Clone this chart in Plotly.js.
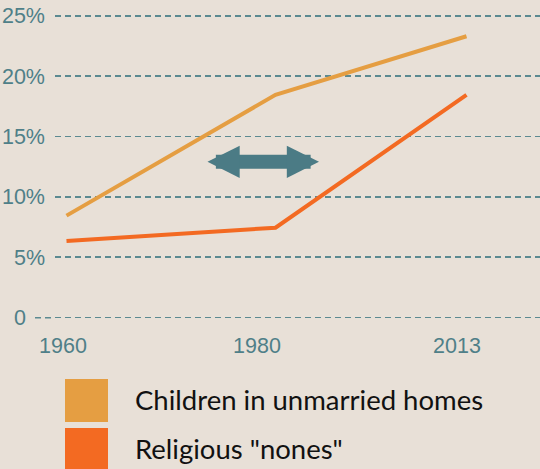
<!DOCTYPE html>
<html>
<head>
<meta charset="utf-8">
<script src="https://cdn.plot.ly/plotly-3.0.1.min.js"></script>
<style>html,body{margin:0;padding:0;background:#E8E0D7;}#chart{width:540px;height:469px;}</style>
</head>
<body>
<div id="chart"></div>
<script>
// Data
var years = ["1960", "1980", "2013"];
var pointPos = [0, 1.045, 2.0];          // horizontal slot of each data point
var labelPos = [-0.0175, 0.9525, 1.9525]; // where the year labels sit
var seriesNames = ["Children in unmarried homes", "Religious \"nones\""];
var unmarried = [8.45, 18.45, 23.3];
var nones = [6.35, 7.45, 18.45];
var seriesColors = ["#E59E42", "#F36A22"];
var yTickVals = [0, 5, 10, 15, 20, 25];
var yTickText = ['0<span style="color:rgba(0,0,0,0)">%</span>', "5%", "10%", "15%", "20%", "25%"];
var arrowLevel = 12.9;
var arrowFrom = 0.6975, arrowTo = 1.2625;

var teal = "#4F7F88";
var grid = "#5B8A91";
var bg = "#E8E0D7";

var traces = [
  {x: pointPos, y: unmarried, name: seriesNames[0], type: "scatter", mode: "lines",
   line: {color: seriesColors[0], width: 4}, hoverinfo: "skip"},
  {x: pointPos, y: nones, name: seriesNames[1], type: "scatter", mode: "lines",
   line: {color: seriesColors[1], width: 4}, hoverinfo: "skip"}
];

// paper helpers: plot area x 55..540, y 0..330
var L = 55;
function px2paperX(p){ return (p - L) / (540 - L); }
function px2paperY(p){ return (330 - p) / 330; }

var shapes = [
  {type: "line", xref: "paper", yref: "y", x0: px2paperX(35), x1: px2paperX(L), y0: 0, y1: 0,
   line: {color: grid, width: 1.6, dash: "6px,4px"}, layer: "below"}
];
var annotations = [
  {x: arrowTo, y: arrowLevel, ax: arrowFrom, ay: arrowLevel, axref: "x", ayref: "y", xref: "x", yref: "y",
   text: "", showarrow: true, arrowside: "end+start", arrowhead: 2, startarrowhead: 2,
   arrowwidth: 14, arrowsize: 0.46, startarrowsize: 0.46, arrowcolor: "#4B7B85", standoff: 0, startstandoff: 0}
];
var legendTop = [379, 428];
for (var i = 0; i < seriesNames.length; i++) {
  shapes.push({type: "rect", xref: "paper", yref: "paper",
    x0: px2paperX(65), x1: px2paperX(108), y0: px2paperY(legendTop[i]), y1: px2paperY(legendTop[i] + 43),
    fillcolor: seriesColors[i], line: {width: 0}});
  annotations.push({xref: "paper", yref: "paper", x: px2paperX(133), y: px2paperY(legendTop[i] + 20.5),
    xanchor: "left", yanchor: "middle", text: seriesNames[i], showarrow: false,
    font: {family: "Lato", size: 27.5, color: "#111111"}});
}

var layout = {
  width: 540, height: 469,
  margin: {l: L, r: 0, t: 0, b: 139, pad: 0},
  paper_bgcolor: bg, plot_bgcolor: bg,
  showlegend: false,
  xaxis: {range: [-0.0575, 2.3675], tickvals: labelPos, ticktext: years, showgrid: false,
    zeroline: false, showline: false, ticks: "", tickfont: {family: "Liberation Sans", size: 21.5, color: teal}, fixedrange: true},
  yaxis: {range: [-1.02, 26.3], tickvals: yTickVals, ticktext: yTickText, showgrid: true,
    gridcolor: grid, gridwidth: 1.6, griddash: "6px,4px", zeroline: false, showline: false, ticks: "",
    ticklabelstandoff: 9,
    tickfont: {family: "Liberation Sans", size: 21.5, color: teal}, fixedrange: true},
  shapes: shapes,
  annotations: annotations
};

Plotly.newPlot("chart", traces, layout, {displayModeBar: false, staticPlot: true});
</script>
</body>
</html>
